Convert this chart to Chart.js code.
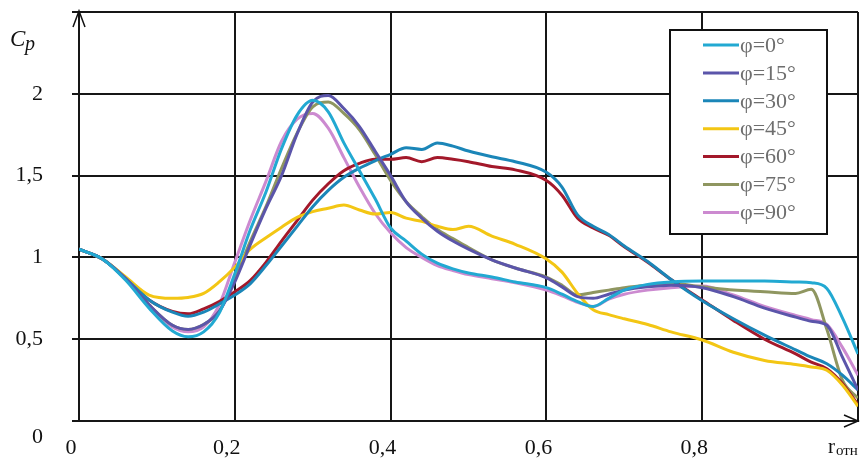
<!DOCTYPE html>
<html>
<head>
<meta charset="utf-8">
<script src="https://cdn.jsdelivr.net/npm/chart.js@4.4.1/dist/chart.umd.min.js"></script>
<style>
    html, body { margin: 0; padding: 0; background: #fff; }
    #wrap { width: 867px; height: 464px; }
</style>
</head>
<body>
<div id="wrap"><canvas id="cpChart" width="867" height="464"></canvas></div>
<script>
// relative radius r_отн (common x values for every curve)
const rRel = [0, 0.03, 0.06, 0.09, 0.12, 0.14, 0.16, 0.18, 0.2, 0.22, 0.24, 0.26, 0.28, 0.3, 0.32, 0.34, 0.36, 0.38, 0.4, 0.42,
    0.44, 0.46, 0.48, 0.5, 0.53, 0.56, 0.6, 0.62, 0.64, 0.66, 0.68, 0.7, 0.73, 0.76, 0.8, 0.84, 0.88, 0.92, 0.94, 0.96, 0.98, 1.0];

// Cp values
const cpPhi0 = [1.05, 0.99, 0.86, 0.69, 0.55, 0.515, 0.545, 0.66, 0.9, 1.17, 1.4, 1.665, 1.87, 1.96, 1.89, 1.7, 1.53, 1.36, 1.18, 1.1,
    1.02, 0.965, 0.93, 0.905, 0.88, 0.85, 0.815, 0.775, 0.73, 0.7, 0.75, 0.8, 0.835, 0.85, 0.855, 0.855, 0.855, 0.85, 0.845, 0.81, 0.63, 0.41];
const cpPhi15 = [1.05, 0.99, 0.87, 0.71, 0.585, 0.56, 0.59, 0.67, 0.85, 1.08, 1.3, 1.5, 1.755, 1.95, 1.99, 1.91, 1.8, 1.65, 1.5, 1.34,
    1.24, 1.16, 1.1, 1.05, 0.985, 0.935, 0.875, 0.82, 0.76, 0.75, 0.775, 0.8, 0.82, 0.83, 0.815, 0.76, 0.69, 0.635, 0.61, 0.585, 0.39, 0.19];
const cpPhi30 = [1.05, 0.99, 0.87, 0.74, 0.665, 0.64, 0.665, 0.715, 0.77, 0.84, 0.95, 1.07, 1.19, 1.31, 1.41, 1.49, 1.545, 1.59, 1.63, 1.67,
    1.66, 1.7, 1.68, 1.65, 1.615, 1.585, 1.52, 1.43, 1.26, 1.19, 1.14, 1.07, 0.975, 0.865, 0.735, 0.625, 0.525, 0.435, 0.39, 0.35, 0.28, 0.19];
const cpPhi45 = [1.05, 0.99, 0.88, 0.77, 0.75, 0.755, 0.78, 0.85, 0.94, 1.05, 1.12, 1.185, 1.245, 1.28, 1.3, 1.32, 1.29, 1.265, 1.275, 1.24,
    1.22, 1.19, 1.17, 1.19, 1.13, 1.08, 0.99, 0.91, 0.78, 0.68, 0.65, 0.625, 0.59, 0.545, 0.495, 0.42, 0.37, 0.345, 0.33, 0.31, 0.22, 0.09];
const cpPhi60 = [1.05, 0.99, 0.87, 0.74, 0.67, 0.655, 0.685, 0.73, 0.79, 0.86, 0.97, 1.1, 1.225, 1.35, 1.45, 1.53, 1.575, 1.6, 1.6, 1.61,
    1.585, 1.61, 1.6, 1.585, 1.555, 1.535, 1.47, 1.38, 1.24, 1.18, 1.135, 1.065, 0.97, 0.865, 0.74, 0.615, 0.5, 0.41, 0.36, 0.32, 0.23, 0.1];
const cpPhi75 = [1.05, 0.99, 0.87, 0.71, 0.585, 0.56, 0.59, 0.67, 0.87, 1.1, 1.31, 1.545, 1.76, 1.92, 1.95, 1.88, 1.78, 1.63, 1.47, 1.34,
    1.25, 1.17, 1.115, 1.06, 0.985, 0.935, 0.88, 0.83, 0.77, 0.785, 0.8, 0.815, 0.83, 0.84, 0.82, 0.8, 0.79, 0.78, 0.805, 0.56, 0.25, 0.14];
const cpPhi90 = [1.05, 0.99, 0.87, 0.71, 0.575, 0.545, 0.575, 0.71, 0.97, 1.23, 1.465, 1.71, 1.845, 1.88, 1.79, 1.61, 1.43, 1.27, 1.15, 1.06,
    1.0, 0.95, 0.92, 0.895, 0.87, 0.845, 0.8, 0.765, 0.725, 0.7, 0.745, 0.775, 0.8, 0.815, 0.825, 0.77, 0.7, 0.645, 0.62, 0.59, 0.45, 0.28];

const seriesLabels = ["φ=0°", "φ=15°", "φ=30°", "φ=45°", "φ=60°", "φ=75°", "φ=90°"];
const seriesValues = [cpPhi0, cpPhi15, cpPhi30, cpPhi45, cpPhi60, cpPhi75, cpPhi90];
const seriesColors = ["#22a9d2", "#5b55aa", "#1b86b8", "#f3c614", "#a3182a", "#8f9660", "#cc8ad0"];

const xTicks = [0, 0.2, 0.4, 0.6, 0.8, 1];
const xTickLabels = ["0", "0,2", "0,4", "0,6", "0,8", ""];
const yTicks = [0, 0.5, 1, 1.5, 2, 2.5];
const yTickLabels = ["", "0,5", "1", "1,5", "2", ""];

const FONT = "'Liberation Serif', 'Times New Roman', serif";

function tickLabel(ticks, labels, v) {
    const i = ticks.findIndex((t) => Math.abs(t - v) < 1e-6);
    return i >= 0 ? labels[i] : "";
}

const extrasPlugin = {
    id: "extras",
    beforeDraw(chart) {
        const ctx = chart.ctx;
        ctx.save();
        ctx.fillStyle = "#fff";
        ctx.fillRect(0, 0, chart.width, chart.height);
        ctx.restore();
    },
    afterDraw(chart) {
        const ctx = chart.ctx;
        const area = chart.chartArea;
        ctx.save();

        // axis arrows
        ctx.strokeStyle = "#111";
        ctx.lineWidth = 1.5;
        ctx.beginPath();
        ctx.moveTo(area.left - 6, area.top + 15);
        ctx.lineTo(area.left, area.top - 1);
        ctx.lineTo(area.left + 6, area.top + 15);
        ctx.moveTo(area.right - 14, area.bottom - 6);
        ctx.lineTo(area.right, area.bottom);
        ctx.lineTo(area.right - 14, area.bottom + 6);
        ctx.stroke();

        // axis captions
        ctx.fillStyle = "#111";
        ctx.textBaseline = "alphabetic";
        ctx.textAlign = "left";
        ctx.font = "italic 23px " + FONT;
        ctx.fillText("C", 10, 46);
        ctx.font = "italic 20px " + FONT;
        ctx.fillText("p", 25, 50);

        ctx.font = "22px " + FONT;
        ctx.textAlign = "right";
        ctx.textBaseline = "middle";
        ctx.fillText("0", 43, 437);

        ctx.textAlign = "left";
        ctx.textBaseline = "alphabetic";
        ctx.font = "21px " + FONT;
        ctx.fillText("r", 828, 453);
        ctx.font = "15px " + FONT;
        ctx.fillText("отн", 836, 455);

        // legend box
        const bx = 670, by = 30, bw = 157, bh = 204;
        ctx.fillStyle = "#fff";
        ctx.fillRect(bx, by, bw, bh);
        ctx.strokeStyle = "#111";
        ctx.lineWidth = 2;
        ctx.strokeRect(bx, by, bw, bh);

        ctx.font = "22px " + FONT;
        ctx.textBaseline = "middle";
        chart.data.datasets.forEach((ds, i) => {
            const y = 45 + i * 27.9;
            ctx.strokeStyle = ds.borderColor;
            ctx.lineWidth = 3;
            ctx.beginPath();
            ctx.moveTo(703, y);
            ctx.lineTo(739, y);
            ctx.stroke();
            ctx.fillStyle = "#6e6e6e";
            ctx.fillText(ds.label, 740, y + 1);
        });

        ctx.restore();
    }
};

const ctx = document.getElementById("cpChart").getContext("2d");

new Chart(ctx, {
    type: "line",

    data: {
        datasets: seriesLabels.map((label, i) => ({
            label: label,
            data: rRel.map((r, j) => ({ x: r, y: seriesValues[i][j] })),
            borderColor: seriesColors[i],
            backgroundColor: seriesColors[i],
            borderWidth: 3,
            pointRadius: 0,
            cubicInterpolationMode: "monotone",
            fill: false
        }))
    },

    options: {
        responsive: false,
        animation: false,
        layout: {
            padding: { top: 12, right: 9, left: 0, bottom: 0 }
        },
        plugins: {
            legend: { display: false },
            tooltip: { enabled: false }
        },
        scales: {
            x: {
                type: "linear",
                min: 0,
                max: 1,
                afterFit: (scale) => {
                    scale.height = 43;
                    scale.paddingLeft = 0;
                    scale.paddingRight = 0;
                },
                grid: { color: "#161616", lineWidth: 2, drawTicks: false },
                border: { display: true, color: "#161616", width: 2 },
                ticks: {
                    stepSize: 0.2,
                    padding: 14,
                    labelOffset: -8,
                    maxRotation: 0,
                    color: "#111",
                    font: { family: FONT, size: 22 },
                    callback: (v) => tickLabel(xTicks, xTickLabels, v)
                }
            },
            y: {
                min: 0,
                max: 2.5,
                afterFit: (scale) => {
                    scale.width = 79;
                    scale.paddingTop = 0;
                    scale.paddingBottom = 0;
                },
                grid: { color: "#161616", lineWidth: 2, drawTicks: true, tickLength: 7 },
                border: { display: true, color: "#161616", width: 2 },
                ticks: {
                    stepSize: 0.5,
                    padding: 29,
                    color: "#111",
                    font: { family: FONT, size: 22 },
                    callback: (v) => tickLabel(yTicks, yTickLabels, v)
                }
            }
        }
    },

    plugins: [extrasPlugin]
});
</script>
</body>
</html>
